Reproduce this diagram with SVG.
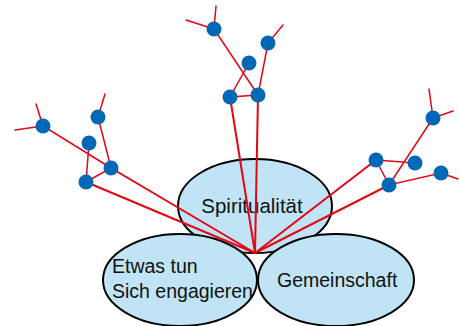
<svg xmlns="http://www.w3.org/2000/svg" width="459" height="326" viewBox="0 0 459 326">
<style>
.ell{fill:#c0e4f6;stroke:#000;stroke-width:2}
.lbl{font-family:"Liberation Sans",Arial,sans-serif;font-size:19.5px;fill:#111}
.main{stroke:#e30613;stroke-width:2;fill:none;stroke-linecap:round}
.br{stroke:#e30613;stroke-width:1.5;fill:none;stroke-linecap:round}
.dot{fill:#0068b4}
</style>
<rect width="459" height="326" fill="#fff"/>
<g id="spiritualitaet">
<ellipse class="ell" cx="255" cy="206" rx="77" ry="47"/>
<text class="lbl" x="252" y="213" text-anchor="middle" style="font-size:20.5px">Spiritualität</text>
</g>
<g id="etwas-tun">
<ellipse class="ell" cx="180" cy="280" rx="77" ry="46"/>
<text class="lbl" x="112" y="273">Etwas tun</text>
<text class="lbl" x="112" y="298">Sich engagieren</text>
</g>
<g id="gemeinschaft">
<ellipse class="ell" cx="336" cy="280" rx="78" ry="46"/>
<text class="lbl" x="277" y="287">Gemeinschaft</text>
</g>
<g id="connectors">
<path class="main" d="M111,168 L255,253 M86,182 L255,253 M230,97 L255,253 M258,95 L255,253 M376,160 L255,253 M389,185 L255,253"/>
<path class="br" d="M15,130 L43,126 M36,104 L43,126 L111,168 M105,94 L98,117 L111,168 M89,143 L86,182 L111,168"/>
<path class="br" d="M186,20 L214,29 M216,6 L214,29 L258,95 M283,25 L268,43 L258,95 M230,97 L258,95 M230,97 L249,63"/>
<path class="br" d="M429,89 L433,118 L453,111 M433,118 L389,185 M376,160 L415,163 M376,160 L389,185 L441,173 L458,179"/>
</g>
<g id="dots">
<circle class="dot" cx="43" cy="126" r="7.5"/>
<circle class="dot" cx="98" cy="117" r="7.5"/>
<circle class="dot" cx="89" cy="143" r="7.5"/>
<circle class="dot" cx="111" cy="168" r="7.5"/>
<circle class="dot" cx="86" cy="182" r="7.5"/>
<circle class="dot" cx="214" cy="29" r="7.5"/>
<circle class="dot" cx="268" cy="43" r="7.5"/>
<circle class="dot" cx="249" cy="63" r="7.5"/>
<circle class="dot" cx="230" cy="97" r="7.5"/>
<circle class="dot" cx="258" cy="95" r="7.5"/>
<circle class="dot" cx="433" cy="118" r="7.5"/>
<circle class="dot" cx="376" cy="160" r="7.5"/>
<circle class="dot" cx="415" cy="163" r="7.5"/>
<circle class="dot" cx="441" cy="173" r="7.5"/>
<circle class="dot" cx="389" cy="185" r="7.5"/>
</g>
</svg>
